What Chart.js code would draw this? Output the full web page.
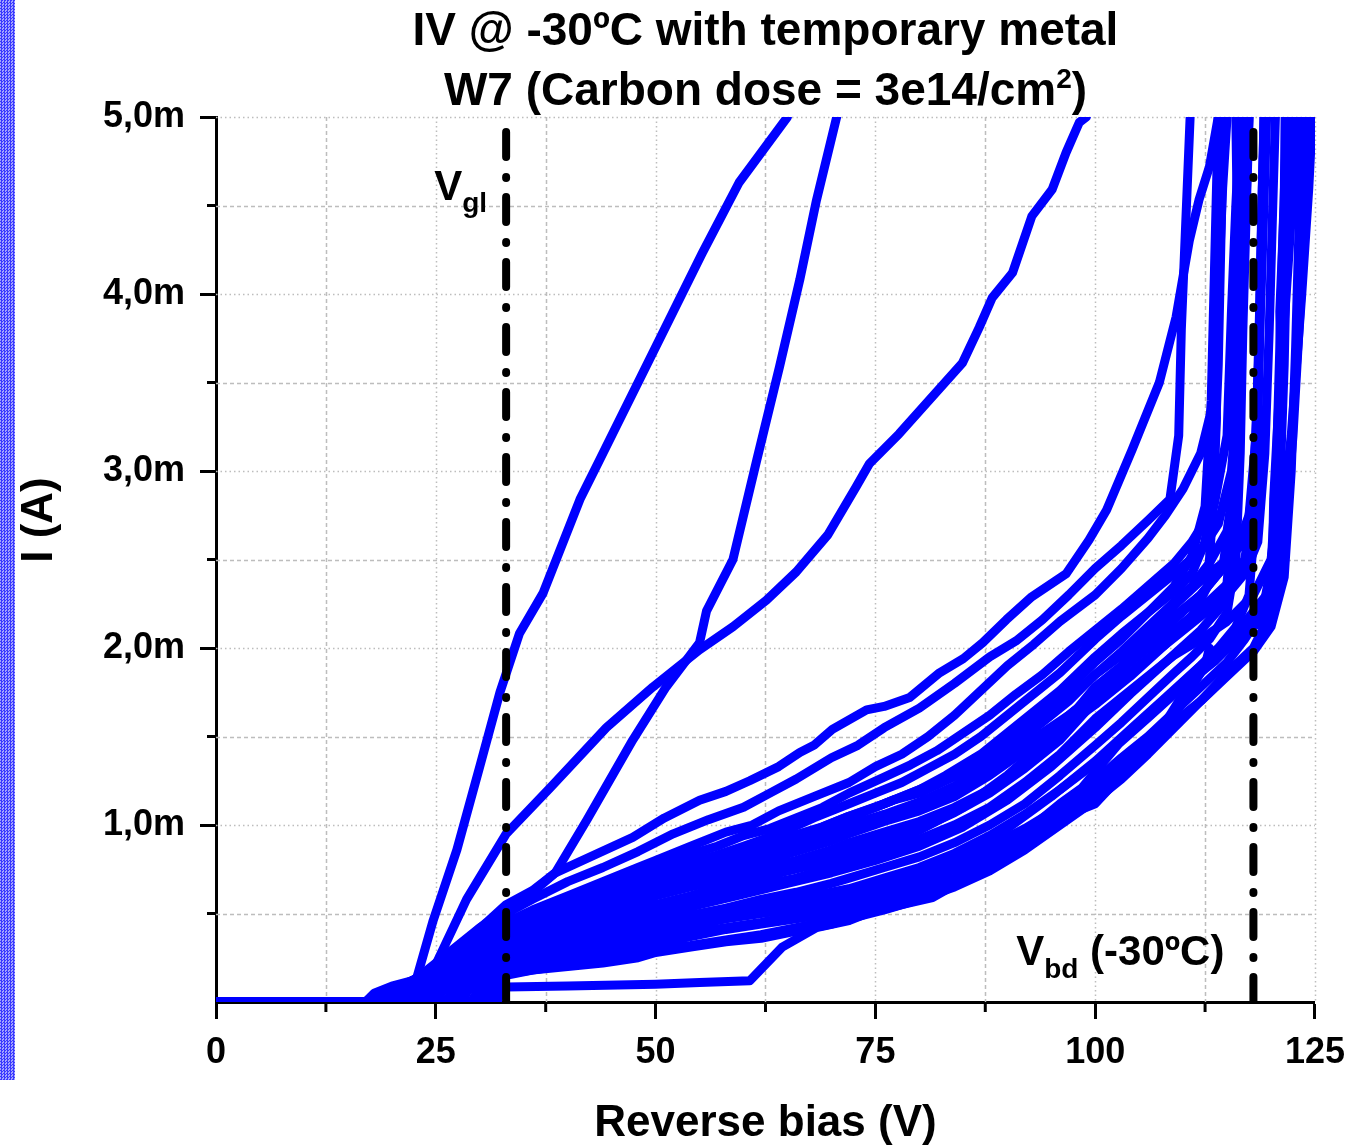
<!DOCTYPE html>
<html>
<head>
<meta charset="utf-8">
<title>IV @ -30ºC</title>
<script src="https://cdn.jsdelivr.net/npm/chart.js@4.4.0/dist/chart.umd.min.js"></script>
<style>
  html, body { margin: 0; padding: 0; background: #fff; }
  #wrap { position: relative; width: 1357px; height: 1146px; }
  #wrap canvas { position: absolute; left: 0; top: 0; }
  #strip { position: absolute; left: 0; top: 0; width: 15px; height: 1080px;
    background: repeating-conic-gradient(#3a3aff 0 25%, #a4a4ff 0 50%) 0 0 / 3px 3px; }
</style>
</head>
<body>
<div id="wrap">
  <canvas id="iv" width="1357" height="1146"></canvas>
  <div id="strip"></div>
</div>
<script>
// reverse bias (V) / current (mA)
var vgl = 33;
var vbd = 118;

var xMajor = [25, 50, 75, 100, 125];
var xMinor = [12.5, 37.5, 62.5, 87.5, 112.5];
var yMajor = [1, 2, 3, 4, 5];
var yMinor = [0.5, 1.5, 2.5, 3.5, 4.5];

// three early-breakdown sweeps
var iv01 = [[0,0],[17,0],[19,0.05],[22.8,0.13],[24.7,0.46],[27.4,0.86],[30,1.33],[32.3,1.75],[34.5,2.08],[37.2,2.31],[41.4,2.84],[43.6,3.06],[48.5,3.55],[55.3,4.23],[59.5,4.63],[65,5.0]];
var iv02 = [[0,0],[17,0],[19,0.05],[22.8,0.13],[24.7,0.18],[28.5,0.58],[33,0.95],[38,1.21],[44.4,1.55],[49.7,1.78],[55,1.99],[58.8,2.12],[62.6,2.27],[66,2.43],[69.6,2.64],[72.8,2.91],[74.3,3.04],[77.7,3.21],[84.9,3.61],[86.8,3.81],[88.3,3.98],[90.6,4.12],[92.8,4.44],[95.1,4.59],[96.7,4.8],[98.2,4.97],[99,5.0]];
var iv03 = [[0,0],[17.5,0],[20,0.06],[23,0.14],[27,0.3],[30,0.42],[33,0.52],[36,0.62],[38.6,0.73],[42.2,1.03],[47.4,1.48],[51.2,1.78],[55,2.03],[55.8,2.21],[58.8,2.5],[61.5,3.06],[64.1,3.59],[66.4,4.08],[68.3,4.53],[70.6,5.0]];

// main bundle
var iv04 = [[0,0],[19,0],[21,0.06],[24,0.17],[28,0.33],[31,0.46],[33,0.55],[36,0.63],[38.6,0.73],[43,0.83],[47.4,0.93],[51,1.04],[55,1.14],[58,1.19],[60.7,1.25],[64,1.33],[66.4,1.41],[68,1.45],[70.1,1.54],[74,1.65],[76,1.67],[78.9,1.72],[82.3,1.86],[85,1.94],[87.2,2.03],[89.9,2.16],[92.8,2.29],[96.7,2.42],[99.3,2.61],[101.3,2.78],[104.2,3.12],[107.3,3.5],[109.2,3.87],[110.7,4.3],[111.8,4.53],[113,4.72],[114,5.0]];
var iv05 = [[0,0],[22,0],[23.5,0.08],[27,0.22],[30,0.36],[33,0.5],[36,0.58],[40,0.68],[44,0.76],[48,0.85],[52,0.95],[56,1.03],[60,1.1],[63,1.18],[66,1.26],[70,1.38],[73,1.45],[76,1.55],[80,1.66],[84,1.8],[88,1.95],[91,2.04],[94,2.16],[97,2.3],[100,2.45],[103,2.58],[106,2.72],[108.5,2.84],[109.5,3.2],[109.8,3.8],[110.3,4.4],[110.8,5.0]];
var iv06 = [[0,0],[18,0],[20,0.05],[23,0.14],[27,0.26],[30,0.36],[33,0.45],[36,0.52],[40,0.6],[44,0.68],[48,0.76],[50,0.8],[54,0.88],[58,0.96],[61,1.0],[64,1.08],[68,1.16],[72,1.24],[75,1.33],[78,1.4],[81,1.5],[84,1.62],[87,1.76],[90,1.9],[93,2.02],[96,2.15],[100,2.3],[103,2.45],[106,2.62],[108,2.75],[110,2.9],[112,3.1],[113.5,3.4],[114,4.0],[114.5,4.6],[115,5.0]];
var iv07 = [[0,0],[24,0],[25,0.07],[28,0.2],[31,0.32],[33,0.42],[36,0.5],[40,0.57],[43,0.63],[47,0.7],[50,0.76],[53,0.82],[57,0.88],[60,0.94],[63,0.98],[66,1.04],[69,1.1],[72,1.18],[76,1.27],[79,1.34],[82,1.42],[85,1.52],[88,1.62],[91,1.74],[94,1.85],[97,1.98],[100,2.1],[103,2.22],[106,2.35],[109,2.48],[111,2.6],[113.5,2.8],[115,3.2],[115.5,3.9],[116,4.5],[116.5,5.0]];
var iv08 = [[0,0],[20,0],[21.5,0.06],[25,0.17],[29,0.3],[33,0.4],[35,0.45],[38,0.5],[42,0.58],[46,0.65],[50,0.72],[54,0.79],[57,0.83],[60,0.88],[64,0.95],[68,1.04],[72,1.12],[75,1.18],[78,1.24],[81,1.32],[84,1.4],[87,1.5],[90,1.62],[93,1.74],[96,1.86],[100,2.05],[103,2.18],[106,2.3],[109,2.42],[112,2.55],[114,2.7],[115.5,3.0],[116.5,3.6],[117,4.3],[117.5,5.0]];
var iv09 = [[0,0],[28,0],[29,0.1],[31,0.25],[33,0.38],[36,0.44],[39,0.5],[42,0.55],[46,0.62],[50,0.7],[53,0.75],[57,0.8],[61,0.86],[65,0.93],[69,0.99],[72,1.05],[76,1.12],[80,1.2],[83,1.28],[87,1.4],[90,1.52],[93,1.64],[96,1.76],[100,1.95],[103,2.08],[106,2.2],[109,2.32],[111,2.42],[112.5,2.6],[113.5,3.0],[114,3.6],[114.3,4.3],[114.6,5.0]];
var iv10 = [[0,0],[21,0],[22.5,0.06],[26,0.18],[30,0.28],[33,0.36],[36,0.41],[40,0.48],[44,0.55],[48,0.62],[50,0.66],[54,0.72],[58,0.78],[62,0.84],[66,0.9],[70,0.96],[72,1.0],[76,1.06],[80,1.13],[84,1.22],[88,1.34],[91,1.46],[94,1.58],[97,1.7],[100,1.85],[103,1.98],[106,2.12],[109,2.26],[111,2.35],[113,2.48],[115,2.66],[116,3.0],[116.4,3.7],[116.8,4.4],[117.2,5.0]];
var iv11 = [[0,0],[25,0],[26,0.08],[29,0.2],[33,0.34],[37,0.4],[41,0.47],[45,0.53],[50,0.62],[54,0.68],[58,0.74],[62,0.79],[66,0.85],[70,0.91],[72,0.95],[76,1.02],[80,1.08],[84,1.16],[88,1.28],[92,1.42],[95,1.54],[98,1.66],[100,1.78],[103,1.9],[106,2.04],[109,2.18],[112,2.3],[114,2.42],[116,2.55],[117.5,2.75],[118.3,3.2],[118.7,3.9],[119,4.6],[119.3,5.0]];
var iv12 = [[0,0],[17,0],[18,0.05],[20,0.09],[23,0.13],[27,0.22],[30,0.27],[33,0.32],[36,0.37],[40,0.43],[45,0.5],[50,0.6],[54,0.65],[58,0.7],[62,0.75],[66,0.8],[70,0.86],[72,0.9],[76,0.96],[80,1.02],[84,1.1],[88,1.2],[92,1.34],[96,1.5],[100,1.75],[103,1.88],[106,2.0],[109,2.1],[112,2.22],[115,2.36],[117,2.5],[118,2.8],[118.5,3.4],[118.8,4.1],[119.2,5.0]];
var iv13 = [[0,0],[30,0],[30.8,0.1],[32,0.2],[33,0.3],[36,0.35],[40,0.41],[44,0.47],[48,0.52],[50,0.55],[54,0.6],[58,0.66],[62,0.71],[66,0.76],[70,0.82],[72,0.86],[76,0.92],[80,0.98],[84,1.07],[88,1.18],[92,1.32],[96,1.48],[100,1.7],[103,1.82],[106,1.94],[109,2.06],[112,2.18],[115,2.3],[117,2.42],[118.5,2.6],[119.3,3.1],[119.8,3.8],[120.2,4.5],[120.5,5.0]];
var iv14 = [[0,0],[19,0],[20.5,0.05],[24,0.12],[28,0.2],[33,0.28],[36,0.33],[40,0.38],[44,0.43],[48,0.48],[50,0.52],[54,0.57],[58,0.62],[62,0.66],[66,0.7],[70,0.76],[72,0.8],[76,0.86],[80,0.92],[84,1.0],[88,1.1],[92,1.24],[96,1.4],[100,1.6],[103,1.72],[106,1.84],[109,1.96],[112,2.05],[115,2.15],[118,2.3],[120,2.5],[121,2.9],[121.5,3.6],[121.8,4.3],[122.2,5.0]];
var iv15 = [[0,0],[31,0],[32,0.12],[33,0.26],[36,0.29],[40,0.32],[44,0.36],[48,0.41],[50,0.45],[54,0.49],[58,0.53],[62,0.58],[66,0.62],[70,0.67],[72,0.7],[76,0.76],[80,0.82],[84,0.9],[88,1.0],[92,1.12],[96,1.28],[100,1.45],[103,1.58],[106,1.72],[109,1.86],[111,1.95],[113,2.05],[115,2.2],[116,2.5],[116.5,3.1],[116.8,3.8],[117.2,4.5],[117.5,5.0]];
var iv16 = [[0,0],[23,0],[24,0.05],[27,0.11],[30,0.18],[33,0.24],[36,0.28],[40,0.32],[44,0.36],[48,0.39],[50,0.42],[54,0.46],[58,0.5],[62,0.54],[66,0.58],[70,0.62],[72,0.64],[76,0.7],[80,0.76],[84,0.84],[88,0.94],[92,1.06],[96,1.2],[100,1.35],[103,1.48],[106,1.62],[109,1.76],[112,1.9],[114,2.0],[116,2.12],[117.5,2.3],[118.3,2.8],[118.6,3.5],[118.9,4.2],[119.2,5.0]];
var iv17 = [[0,0],[32,0],[32.5,0.12],[33,0.22],[36,0.25],[40,0.29],[44,0.33],[48,0.37],[50,0.4],[54,0.43],[58,0.47],[62,0.5],[66,0.53],[70,0.56],[72,0.58],[76,0.64],[80,0.7],[84,0.78],[88,0.88],[92,0.98],[96,1.1],[100,1.25],[103,1.38],[106,1.5],[109,1.64],[112,1.78],[115,1.92],[117,2.05],[119,2.2],[120,2.45],[120.6,3.0],[121,3.7],[121.4,4.4],[121.8,5.0]];
var iv18 = [[0,0],[26,0],[27,0.06],[30,0.13],[33,0.2],[36,0.24],[40,0.28],[44,0.31],[48,0.34],[50,0.36],[54,0.39],[58,0.42],[62,0.45],[66,0.49],[70,0.52],[72,0.54],[76,0.6],[80,0.66],[84,0.75],[88,0.85],[92,0.96],[96,1.08],[100,1.2],[103,1.32],[106,1.45],[109,1.58],[112,1.7],[115,1.84],[118,1.98],[120,2.12],[121.5,2.4],[122.3,3.0],[122.8,3.7],[123.2,4.4],[123.6,5.0]];
var iv19 = [[0,0],[29,0],[30,0.08],[33,0.18],[36,0.21],[40,0.25],[44,0.28],[48,0.31],[50,0.33],[54,0.37],[58,0.41],[62,0.44],[66,0.47],[70,0.5],[72,0.5],[76,0.56],[80,0.62],[84,0.7],[88,0.8],[92,0.92],[96,1.04],[100,1.12],[103,1.28],[106,1.44],[109,1.62],[111,1.78],[112.5,1.9],[113,2.0]];
var iv20 = [[0,0],[32,0],[32.6,0.1],[33,0.15],[36,0.18],[40,0.21],[44,0.24],[48,0.27],[50,0.3],[54,0.32],[58,0.35],[62,0.38],[66,0.42],[70,0.46],[72,0.48],[76,0.53],[80,0.6],[84,0.68],[88,0.78],[92,0.9],[96,1.02],[100,1.16],[103,1.3],[106,1.46],[108,1.58],[110,1.74],[112,1.86],[114,1.96],[116,2.04],[117.5,2.12],[119,2.14],[120.1,2.27],[120.3,2.84],[120.9,3.4],[122,4.2],[123,5.0]];
var iv21 = [[0,0],[17,0],[18,0.04],[22,0.06],[28,0.07],[33,0.085],[40,0.09],[50,0.1],[55,0.11],[60.7,0.12],[64.4,0.31],[68.3,0.42],[72,0.46],[74,0.5],[78,0.55],[81.5,0.59],[84,0.66],[87.2,0.76],[90,0.86],[92.8,0.99],[96,1.12],[98.5,1.21],[100,1.3],[102.7,1.46],[106.1,1.61],[109.9,1.78],[113.7,1.93],[117.5,2.12],[120.2,2.3],[121,2.6],[122.3,3.2],[123.5,4.0],[124.3,4.6],[124.7,5.0]];
var iv22 = [[0,0],[18,0],[19,0.05],[22,0.1],[26,0.12],[30,0.14],[33,0.16],[36,0.18],[40,0.2],[44,0.22],[48,0.25],[50,0.28],[54,0.31],[58,0.34],[62,0.36],[66,0.4],[70,0.44],[72,0.47],[76,0.52],[80,0.58],[84,0.65],[88,0.74],[92,0.86],[96,1.0],[100,1.14],[103,1.26],[106,1.4],[109,1.55],[112,1.7],[115,1.86],[118,2.0],[120,2.2],[121.5,2.6],[122.5,3.2],[123.3,3.9],[124,4.5],[124.5,5.0]];
var iv23 = [[0,0],[22,0],[23,0.07],[26,0.16],[30,0.26],[33,0.33],[36,0.4],[39,0.44],[43,0.52],[46,0.56],[50,0.64],[53,0.7],[56,0.76],[59,0.8],[63,0.87],[67,0.93],[70,1.0],[73,1.06],[77,1.14],[80,1.18],[83,1.25],[86,1.32],[89,1.42],[92,1.55],[95,1.68],[98,1.82],[100,1.92],[103,2.05],[106,2.2],[109,2.35],[111,2.52],[112.5,2.8],[113.2,3.4],[113.6,4.2],[114,5.0]];
var iv24 = [[0,0],[27,0],[28,0.1],[31,0.22],[33,0.3],[37,0.38],[41,0.46],[45,0.52],[49,0.6],[52,0.66],[55,0.72],[59,0.77],[63,0.82],[67,0.88],[71,0.95],[74,1.0],[78,1.08],[82,1.16],[86,1.26],[90,1.38],[94,1.52],[97,1.62],[100,1.74],[103,1.88],[106,2.02],[109,2.16],[112,2.3],[114.5,2.45],[115.5,2.8],[116,3.5],[116.3,4.2],[116.6,5.0]];
var iv25 = [[0,0],[20,0],[21,0.06],[24,0.14],[28,0.24],[33,0.35],[37,0.42],[41,0.5],[45,0.57],[49,0.65],[52,0.7],[56,0.78],[60,0.84],[64,0.9],[68,0.97],[72,1.05],[75,1.1],[79,1.18],[83,1.26],[87,1.36],[91,1.48],[95,1.64],[98,1.76],[100,1.85],[103,1.96],[106,2.1],[109,2.24],[112,2.38],[115,2.5],[117,2.6],[118,2.9],[118.5,3.5],[119,4.2],[119.5,5.0]];
var iv26 = [[0,0],[24,0],[25.5,0.09],[29,0.22],[33,0.31],[37,0.36],[41,0.41],[45,0.46],[50,0.54],[55,0.6],[60,0.67],[65,0.74],[70,0.8],[75,0.88],[80,0.97],[85,1.1],[90,1.28],[95,1.5],[100,1.68],[104,1.84],[108,2.02],[111,2.18],[112.8,2.35],[113.4,2.8],[113.8,3.3],[113.6,3.8],[114.2,4.4],[114.4,5.0]];
var iv27 = [[0,0],[30,0],[31,0.11],[33,0.25],[37,0.31],[41,0.36],[45,0.41],[50,0.48],[55,0.55],[60,0.61],[65,0.67],[70,0.73],[75,0.8],[80,0.88],[85,0.99],[90,1.14],[95,1.33],[100,1.55],[104,1.74],[108,1.92],[112,2.1],[114.8,2.26],[115.6,2.7],[116,3.2],[115.8,3.7],[116.2,4.3],[116,5.0]];
var iv28 = [[0,0],[21,0],[22.5,0.06],[26,0.13],[30,0.19],[33,0.23],[37,0.27],[41,0.31],[45,0.35],[50,0.4],[55,0.45],[60,0.5],[65,0.55],[70,0.6],[75,0.67],[80,0.74],[85,0.84],[90,0.98],[95,1.16],[100,1.36],[104,1.54],[108,1.72],[112,1.9],[116,2.08],[119.5,2.3],[120.6,2.7],[121.2,3.3],[121,3.9],[121.5,4.5],[121.6,5.0]];

var sweeps = [iv01, iv02, iv03, iv04, iv05, iv06, iv07, iv08, iv09, iv10, iv11, iv12, iv13, iv14,
              iv15, iv16, iv17, iv18, iv19, iv20, iv21, iv22, iv23, iv24, iv25, iv26, iv27, iv28];

var fam = '"Liberation Sans", Arial, sans-serif';

function boldFont(size) {
    return 'bold ' + size + 'px ' + fam;
}

// draws runs of text (for sub/superscripts), left aligned at x
function drawRuns(ctx, runs, x, y) {
    runs.forEach(function(r) {
        ctx.font = boldFont(r.size);
        ctx.fillText(r.t, x, y + (r.dy || 0));
        x += ctx.measureText(r.t).width;
    });
}

function runsWidth(ctx, runs) {
    var w = 0;
    runs.forEach(function(r) {
        ctx.font = boldFont(r.size);
        w += ctx.measureText(r.t).width;
    });
    return w;
}

var decorations = {
    id: 'decorations',
    beforeDatasetsDraw: function(chart) {
        var ctx = chart.ctx;
        var a = chart.chartArea;
        var xs = chart.scales.x;
        var ys = chart.scales.y;

        ctx.save();
        ctx.strokeStyle = '#bdbdbd';
        ctx.lineWidth = 1.5;

        // minor grid: dashed
        ctx.setLineDash([4, 3]);
        xMinor.forEach(function(v) {
            var px = Math.round(xs.getPixelForValue(v)) + 0.5;
            ctx.beginPath(); ctx.moveTo(px, a.top); ctx.lineTo(px, a.bottom); ctx.stroke();
        });
        yMinor.forEach(function(v) {
            var py = Math.round(ys.getPixelForValue(v)) + 0.5;
            ctx.beginPath(); ctx.moveTo(a.left, py); ctx.lineTo(a.right, py); ctx.stroke();
        });

        // major grid: dotted
        ctx.setLineDash([1.5, 3]);
        xMajor.forEach(function(v) {
            var px = Math.round(xs.getPixelForValue(v)) + 0.5;
            ctx.beginPath(); ctx.moveTo(px, a.top); ctx.lineTo(px, a.bottom); ctx.stroke();
        });
        yMajor.forEach(function(v) {
            var py = Math.round(ys.getPixelForValue(v)) + 0.5;
            ctx.beginPath(); ctx.moveTo(a.left, py); ctx.lineTo(a.right, py); ctx.stroke();
        });

        // minor ticks
        ctx.setLineDash([]);
        ctx.strokeStyle = '#000';
        ctx.lineWidth = 3;
        xMinor.forEach(function(v) {
            var px = xs.getPixelForValue(v);
            ctx.beginPath(); ctx.moveTo(px, a.bottom); ctx.lineTo(px, a.bottom + 10); ctx.stroke();
        });
        yMinor.forEach(function(v) {
            var py = ys.getPixelForValue(v);
            ctx.beginPath(); ctx.moveTo(a.left, py); ctx.lineTo(a.left - 9, py); ctx.stroke();
        });
        ctx.restore();
    },
    afterDraw: function(chart) {
        var ctx = chart.ctx;
        var a = chart.chartArea;
        var xs = chart.scales.x;
        var cx = (a.left + a.right) / 2;

        ctx.save();
        ctx.fillStyle = '#000';
        ctx.textBaseline = 'alphabetic';

        // title
        ctx.textAlign = 'center';
        ctx.font = boldFont(46);
        ctx.fillText('IV @ -30ºC with temporary metal', cx, 45);
        ctx.textAlign = 'left';
        var line2 = [
            { t: 'W7 (Carbon dose = 3e14/cm', size: 46 },
            { t: '2', size: 28, dy: -17 },
            { t: ')', size: 46 }
        ];
        drawRuns(ctx, line2, cx - runsWidth(ctx, line2) / 2, 105);

        // axis titles
        ctx.textAlign = 'center';
        ctx.font = boldFont(44);
        ctx.fillText('Reverse bias (V)', cx, 1136);
        ctx.save();
        ctx.translate(52, 520);
        ctx.rotate(-Math.PI / 2);
        ctx.fillText('I (A)', 0, 0);
        ctx.restore();

        // marker labels
        ctx.textAlign = 'left';
        var gl = [{ t: 'V', size: 42 }, { t: 'gl', size: 28, dy: 12 }];
        drawRuns(ctx, gl, xs.getPixelForValue(vgl) - 19 - runsWidth(ctx, gl), 200);
        var bd = [{ t: 'V', size: 42 }, { t: 'bd', size: 28, dy: 13 }, { t: ' (-30ºC)', size: 42 }];
        drawRuns(ctx, bd, xs.getPixelForValue(vbd) - 29 - runsWidth(ctx, bd), 965);
        ctx.restore();
    }
};

function markerLine(v) {
    return {
        data: [{ x: v, y: 0 }, { x: v, y: 5 }],
        borderColor: '#000',
        borderWidth: 8,
        borderDash: [25, 19, 1, 20],
        borderCapStyle: 'round',
        pointRadius: 0,
        order: 0
    };
}

var datasets = [markerLine(vgl), markerLine(vbd)];
sweeps.forEach(function(s) {
    datasets.push({
        data: s.map(function(p) { return { x: p[0], y: p[1] }; }),
        borderColor: '#0000ff',
        borderWidth: 9,
        borderJoinStyle: 'round',
        borderCapStyle: 'round',
        pointRadius: 0,
        tension: 0,
        fill: false,
        order: 1
    });
});

var tickFont = { family: fam, size: 36, weight: 'bold' };

var chart = new Chart(document.getElementById('iv'), {
    type: 'line',
    data: { datasets: datasets },
    options: {
        responsive: false,
        animation: false,
        events: [],
        layout: { padding: { left: 0, top: 117, right: 41, bottom: 0 } },
        plugins: {
            legend: { display: false },
            tooltip: { enabled: false },
            title: { display: false }
        },
        scales: {
            x: {
                type: 'linear',
                min: 0,
                max: 125,
                ticks: { stepSize: 25, color: '#000', font: tickFont, padding: 12, maxRotation: 0, autoSkip: false },
                grid: { drawOnChartArea: false, tickLength: 17, tickWidth: 3, tickColor: '#000' },
                border: { display: true, color: '#000', width: 3 },
                afterFit: function(s) { s.height = 144; }
            },
            y: {
                type: 'linear',
                min: 0,
                max: 5,
                ticks: {
                    stepSize: 1,
                    color: '#000',
                    font: tickFont,
                    padding: 15,
                    callback: function(v) { return v === 0 ? '' : v.toFixed(1).replace('.', ',') + 'm'; }
                },
                grid: {
                    drawOnChartArea: false,
                    tickLength: 16,
                    tickWidth: 3,
                    tickColor: function(c) { return c.tick && c.tick.value === 0 ? 'rgba(0,0,0,0)' : '#000'; }
                },
                border: { display: true, color: '#000', width: 3 },
                afterFit: function(s) { s.width = 216; }
            }
        }
    },
    plugins: [decorations]
});
</script>
</body>
</html>
